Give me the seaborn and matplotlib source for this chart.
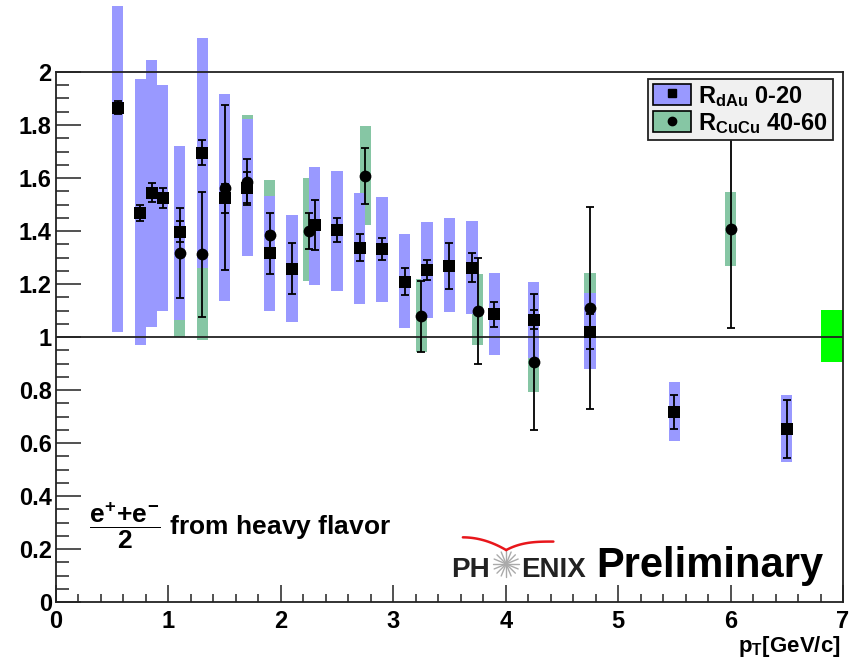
import matplotlib
matplotlib.use('Agg')
import matplotlib.pyplot as plt
import numpy as np
import seaborn as sns
from matplotlib.patches import Patch
from matplotlib.lines import Line2D
from matplotlib.ticker import MultipleLocator

# R_dAu 0-20 : points, stat errors and systematic boxes
dau_pt = [0.55, 0.75, 0.85, 0.95, 1.1, 1.3, 1.5, 1.7, 1.9, 2.1, 2.3, 2.5,
          2.7, 2.9, 3.1, 3.3, 3.5, 3.7, 3.9, 4.25, 4.75, 5.5, 6.5]
dau_r = [1.866, 1.469, 1.545, 1.524, 1.398, 1.696, 1.524, 1.564, 1.316, 1.258, 1.423, 1.403,
         1.337, 1.331, 1.209, 1.253, 1.268, 1.262, 1.085, 1.066, 1.020, 0.717, 0.653]
dau_stat = [0.025, 0.03, 0.036, 0.037, 0.04, 0.047, 0.055, 0.06, 0.08, 0.096, 0.093, 0.045,
            0.05, 0.042, 0.052, 0.038, 0.085, 0.054, 0.048, 0.037, 0.067, 0.064, 0.11]
dau_sys_lo = [1.018, 0.969, 1.038, 1.098, 1.064, 1.262, 1.135, 1.306, 1.098, 1.056, 1.198, 1.172,
              1.125, 1.132, 1.033, 1.070, 1.093, 1.086, 0.931, 0.92, 0.880, 0.606, 0.530]
dau_sys_hi = [2.25, 1.972, 2.047, 1.951, 1.721, 2.127, 1.917, 1.822, 1.532, 1.459, 1.642, 1.625,
              1.545, 1.529, 1.390, 1.433, 1.449, 1.439, 1.241, 1.209, 1.167, 0.829, 0.780]

# R_CuCu 40-60
cucu_pt = [1.1, 1.3, 1.5, 1.7, 1.9, 2.25, 2.75, 3.25, 3.75, 4.25, 4.75, 6.0]
cucu_r = [1.318, 1.312, 1.564, 1.585, 1.384, 1.400, 1.608, 1.079, 1.100, 0.907, 1.110, 1.409]
cucu_stat = [0.17, 0.235, 0.31, 0.086, 0.085, 0.069, 0.106, 0.134, 0.20, 0.257, 0.38, 0.374]
cucu_sys_lo = [0.999, 0.987, 1.31, 1.331, 1.176, 1.211, 1.423, 0.945, 0.969, 0.793, 0.98, 1.268]
cucu_sys_hi = [1.64, 1.64, 1.81, 1.839, 1.592, 1.599, 1.796, 1.217, 1.236, 1.021, 1.240, 1.549]

# normalisation uncertainty box
norm_pt = [6.9]
norm_lo = [0.905]
norm_hi = [1.101]

x_ticks = [0, 1, 2, 3, 4, 5, 6, 7]
x_ticklabels = ['0', '1', '2', '3', '4', '5', '6', '7']
y_ticks = [0, 0.2, 0.4, 0.6, 0.8, 1.0, 1.2, 1.4, 1.6, 1.8, 2.0]
y_ticklabels = ['0', '0.2', '0.4', '0.6', '0.8', '1', '1.2', '1.4', '1.6', '1.8', '2']

blue = '#9999ff'
green = '#86c6a4'

sns.set_theme(style='ticks')
plt.rcParams['font.family'] = ['Liberation Sans', 'DejaVu Sans']
plt.rcParams['font.weight'] = 'bold'
plt.rcParams['text.color'] = 'black'
plt.rcParams['mathtext.fontset'] = 'custom'
plt.rcParams['mathtext.rm'] = 'Liberation Sans:bold'
plt.rcParams['mathtext.it'] = 'Liberation Sans:bold'
plt.rcParams['mathtext.bf'] = 'Liberation Sans:bold'

fig = plt.figure(figsize=(8.56, 6.58), dpi=100)
ax = fig.add_axes([56 / 856, 56 / 658, 787 / 856, 530 / 658])

# systematic boxes (green under blue), allowed to stick out of the frame
bars = ax.bar(cucu_pt, np.subtract(cucu_sys_hi, cucu_sys_lo), bottom=cucu_sys_lo,
              width=0.1, color=green, linewidth=0, zorder=1)
for p in bars:
    p.set_clip_on(False)
bars = ax.bar(dau_pt, np.subtract(dau_sys_hi, dau_sys_lo), bottom=dau_sys_lo,
              width=0.1, color=blue, linewidth=0, zorder=2)
for p in bars:
    p.set_clip_on(False)
ax.bar(norm_pt, np.subtract(norm_hi, norm_lo), bottom=norm_lo, width=0.2,
       color='#00ff00', linewidth=0, zorder=2)

ax.axhline(1, color='#222222', linewidth=1.3, zorder=3)

# stat errors
ax.errorbar(dau_pt, dau_r, yerr=dau_stat, fmt='none', ecolor='black',
            elinewidth=1.3, capsize=2.6, capthick=1.3, zorder=4)
ax.errorbar(cucu_pt, cucu_r, yerr=cucu_stat, fmt='none', ecolor='black',
            elinewidth=1.3, capsize=2.6, capthick=1.3, zorder=4)

sns.scatterplot(x=dau_pt, y=dau_r, marker='s', color='black', s=64,
                linewidth=0, ax=ax, zorder=5, legend=False)
sns.scatterplot(x=cucu_pt, y=cucu_r, marker='o', color='black', s=72,
                linewidth=0, ax=ax, zorder=5, legend=False)

# axes, ROOT style
ax.set_xlim(0, 7)
ax.set_ylim(0, 2)
ax.set_xticks(x_ticks, x_ticklabels)
ax.set_yticks(y_ticks, y_ticklabels)
ax.xaxis.set_minor_locator(MultipleLocator(0.2))
ax.yaxis.set_minor_locator(MultipleLocator(0.05))
ax.tick_params(axis='both', which='both', direction='in', top=False, right=False,
               width=1.1, color='#222222', labelcolor='black', labelsize=17)
ax.tick_params(axis='y', which='major', length=18, pad=3)
ax.tick_params(axis='y', which='minor', length=9)
ax.tick_params(axis='x', which='major', length=12, pad=6)
ax.tick_params(axis='x', which='minor', length=6)
for s in ax.spines.values():
    s.set_visible(True)
    s.set_color('#222222')
    s.set_linewidth(1.3)
ax.set_xlabel('')
ax.set_ylabel('')
ax.text(0.997, -0.094, r'$\mathrm{p_{T}}$[GeV/c]', transform=ax.transAxes,
        ha='right', va='baseline', fontsize=16, fontweight='bold')

# legend
handles = [(Patch(facecolor=blue, edgecolor='black', linewidth=1.2),
            Line2D([], [], marker='s', ls='', color='black', markersize=6)),
           (Patch(facecolor=green, edgecolor='black', linewidth=1.2),
            Line2D([], [], marker='o', ls='', color='black', markersize=6))]
labels = [r'$\mathrm{R_{dAu}}$ 0-20', r'$\mathrm{R_{CuCu}}$ 40-60']
leg = ax.legend(handles, labels, loc='upper right', bbox_to_anchor=(0.987, 0.987),
                borderaxespad=0, fancybox=False, framealpha=1, fontsize=17,
                borderpad=0.2, labelspacing=0.1, handletextpad=0.3,
                handlelength=1.6, handleheight=1.0)
leg.get_frame().set_facecolor('#f0f0f0')
leg.get_frame().set_edgecolor('#222222')
leg.get_frame().set_linewidth(1.3)
leg.set_zorder(10)

# annotation
ax.text(0.294, 0.253, r'$\dfrac{e^{+}{+}e^{-}}{2}$ from heavy flavor',
        ha='left', va='baseline', fontsize=19, fontweight='bold')

# PHENIX logo + Preliminary
ax.text(0.551, 0.047, 'PH', transform=ax.transAxes, ha='right', va='baseline',
        fontsize=20, fontweight='bold', color='#222222')
ax.text(0.591, 0.047, 'ENIX', transform=ax.transAxes, ha='left', va='baseline',
        fontsize=20, fontweight='bold', color='#222222')
cx, cy = 0.572, 0.0717
for a in np.linspace(0, np.pi, 8, endpoint=False):
    dx, dy = np.cos(a) * 13 / 787, np.sin(a) * 13 / 530
    ax.plot([cx - dx, cx + dx], [cy - dy, cy + dy], color='#aaaaaa', lw=1.0,
            transform=ax.transAxes, clip_on=False, zorder=6)
t = np.linspace(0, 1, 20)
ax.plot(0.517 + t * (0.572 - 0.517), 0.122 - 0.024 * t ** 2, color='#e8161b', lw=1.8,
        transform=ax.transAxes, clip_on=False, zorder=6)
ax.plot(0.572 + t * (0.632 - 0.572), 0.098 + 0.016 * (1 - (1 - t) ** 3), color='#e8161b',
        lw=1.8, transform=ax.transAxes, clip_on=False, zorder=6)
ax.text(0.687, 0.047, 'Preliminary', transform=ax.transAxes, ha='left', va='baseline',
        fontsize=30, fontweight='bold', color='black')

fig.savefig('out.png', dpi=100)
